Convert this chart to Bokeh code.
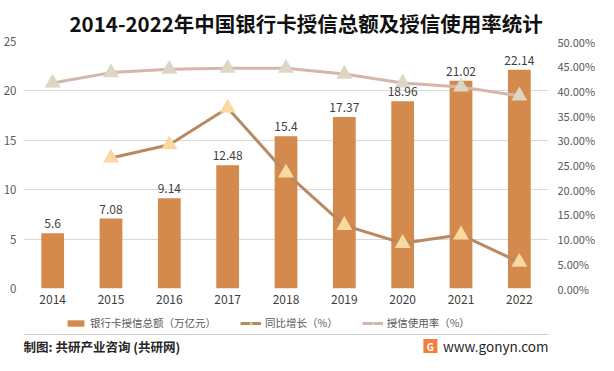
from bokeh.plotting import figure
from bokeh.models import (ColumnDataSource, Range1d, LinearAxis, FixedTicker,
                          PrintfTickFormatter, Legend, LegendItem, LabelSet)
from bokeh.layouts import column
from bokeh.embed import file_html
from bokeh.resources import INLINE
from bokeh.core.properties import value

# ---- data ----
years = ["2014", "2015", "2016", "2017", "2018", "2019", "2020", "2021", "2022"]
credit_total = [5.6, 7.08, 9.14, 12.48, 15.4, 17.37, 18.96, 21.02, 22.14]
yoy_years = ["2015", "2016", "2017", "2018", "2019", "2020", "2021", "2022"]
yoy_growth = [26.43, 29.10, 36.54, 23.40, 12.79, 9.15, 10.86, 5.33]
usage_rate = [41.6, 43.7, 44.4, 44.6, 44.6, 43.4, 41.6, 40.8, 39.0]
left_ticks = [0, 5, 10, 15, 20, 25]
right_ticks = [0, 5, 10, 15, 20, 25, 30, 35, 40, 45, 50]

title_text = "2014-2022年中国银行卡授信总额及授信使用率统计"
legend_labels = ["银行卡授信总额（万亿元）", "同比增长（%）", "授信使用率（%）"]
source_text = "制图: 共研产业咨询 (共研网)"
site_text = "www.gonyn.com"

FONT = "Noto Sans CJK SC"
BAR = "#D38A4C"
G_LINE = "#B98A62"
G_TRI = "#F9D9A0"
U_LINE = "#D4B6AC"
U_TRI = "#DDD6C3"

bar_src = ColumnDataSource(dict(year=years, total=credit_total,
                                label=[str(v) for v in credit_total]))
g_src = ColumnDataSource(dict(year=yoy_years, val=yoy_growth))
u_src = ColumnDataSource(dict(year=years, val=usage_rate))

# ---------------- main chart ----------------
p = figure(x_range=years, y_range=Range1d(0, 25), width=598, height=310,
           output_backend="svg", toolbar_location=None,
           min_border_left=22, min_border_right=49, min_border_top=41, min_border_bottom=22)
p.outline_line_color = None
p.extra_y_ranges = {"pct": Range1d(0, 50)}

p.title.text = title_text
p.title.align = "left"
p.title.offset = 46
p.title.text_font = FONT
p.title.text_font_size = "20.5px"
p.title.text_font_style = "bold"
p.title.text_color = "#111111"
p.title.standoff = 8

p.yaxis.ticker = FixedTicker(ticks=left_ticks)
raxis = LinearAxis(y_range_name="pct", ticker=FixedTicker(ticks=right_ticks),
                   formatter=PrintfTickFormatter(format="%.2f%%"))
p.add_layout(raxis, "right")

for ax in p.axis:
    ax.axis_line_color = None
    ax.major_tick_line_color = None
    ax.minor_tick_line_color = None
    ax.major_tick_out = 0
    ax.major_tick_in = 0
    ax.minor_tick_out = 0
    ax.major_label_text_color = "#595959"
    ax.major_label_text_font = FONT
    ax.major_label_text_font_size = "11.5px"
p.xaxis.major_label_text_font_size = "12px"
p.xaxis.major_label_text_color = "#404040"
p.xaxis.major_label_standoff = 6
p.yaxis.major_label_standoff = 7
raxis.major_label_text_font_size = "11px"
raxis.major_label_standoff = 9

p.xgrid.grid_line_color = None
p.ygrid.ticker = FixedTicker(ticks=left_ticks)
p.ygrid.grid_line_color = "#D9D9D9"
p.ygrid.grid_line_width = 1

p.vbar(x="year", top="total", width=0.39, source=bar_src, fill_color=BAR, line_color=None)
labels = LabelSet(x="year", y="total", text="label", source=bar_src, y_offset=5,
                  text_align="center", text_baseline="bottom",
                  text_font=value(FONT), text_font_size="12px", text_color="#404040")
p.add_layout(labels)

p.line(x="year", y="val", source=u_src, y_range_name="pct", line_color=U_LINE, line_width=3)
p.scatter(x="year", y="val", source=u_src, y_range_name="pct",
          marker="triangle", size=16, fill_color=U_TRI, line_color=None)
p.line(x="year", y="val", source=g_src, y_range_name="pct", line_color=G_LINE, line_width=3)
p.scatter(x="year", y="val", source=g_src, y_range_name="pct",
          marker="triangle", size=16, fill_color=G_TRI, line_color=None)

# ---------------- legend + footer strip ----------------
f = figure(width=598, height=45, x_range=Range1d(0, 1), y_range=Range1d(0, 45),
           output_backend="svg", toolbar_location=None, min_border=0,
           x_axis_type=None, y_axis_type=None)
f.grid.visible = False
f.outline_line_color = None

# swatch renderers for the legend (their single point lies outside the visible range)
sw_bar = f.rect(x=[-5], y=[-5], width=1, height=1, fill_color=BAR, line_color=None)
sw_gl = f.line(x=[-6, -5], y=[-5, -5], line_color=G_LINE, line_width=3)
sw_gp = f.scatter(x=[-5], y=[-5], marker="triangle", size=16, fill_color=G_TRI, line_color=None)
sw_ul = f.line(x=[-6, -5], y=[-5, -5], line_color=U_LINE, line_width=3)
sw_up = f.scatter(x=[-5], y=[-5], marker="triangle", size=16, fill_color=U_TRI, line_color=None)

legend = Legend(items=[
    LegendItem(label=legend_labels[0], renderers=[sw_bar]),
    LegendItem(label=legend_labels[1], renderers=[sw_gl, sw_gp]),
    LegendItem(label=legend_labels[2], renderers=[sw_ul, sw_up]),
], orientation="horizontal", location=(42, 25), glyph_width=21, glyph_height=8,
   label_standoff=4, spacing=24, padding=0, margin=0, border_line_color=None,
   background_fill_alpha=0, label_text_font=FONT, label_text_font_size="10.5px",
   label_text_color="#595959", label_height=14)
f.add_layout(legend, "center")

f.segment(x0=[0], y0=[21], x1=[1], y1=[21], line_color="#CCCCCC", line_width=1)
f.text(x=[0], y=[9.5], text=[source_text], text_font=value(FONT), text_font_size="12.5px",
       text_font_style="bold", text_color="#262626", text_baseline="middle")
f.rect(x=[0.775], y=[9.5], width=14, height=14, width_units="screen", height_units="screen",
       fill_color="#F47F3C", line_color=None)
f.text(x=[0.775], y=[9.5], text=["G"], text_font=value(FONT), text_font_size="10px",
       text_font_style="bold", text_color="#FFFFFF", text_align="center",
       text_baseline="middle")
f.text(x=[1], y=[9.5], text=[site_text], text_font=value(FONT), text_font_size="13.5px",
       text_color="#262626", text_baseline="middle", text_align="right")

layout = column(p, f, spacing=0)
open("out.html", "w").write(file_html(layout, INLINE))
